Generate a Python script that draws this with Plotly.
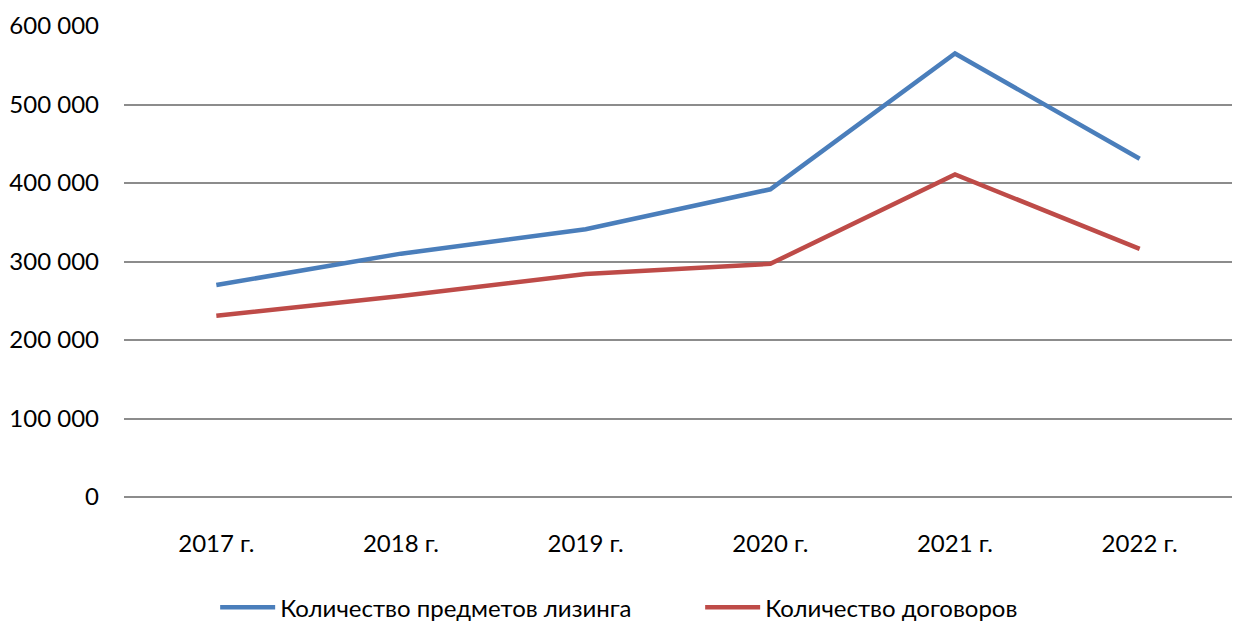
import plotly.graph_objects as go

years = ["2017 г.", "2018 г.", "2019 г.", "2020 г.", "2021 г.", "2022 г."]
items = [270000, 310000, 341000, 392000, 565000, 431000]
contracts = [231000, 256000, 284000, 297000, 411000, 316000]
yticks = [0, 100000, 200000, 300000, 400000, 500000, 600000]
ytick_text = ["0", "100 000", "200 000", "300 000", "400 000", "500 000", "600 000"]

fig = go.Figure()
fig.add_trace(go.Scatter(x=years, y=items, mode="lines", name="Количество предметов лизинга",
                         line=dict(color="#4a7ebb", width=4.5)))
fig.add_trace(go.Scatter(x=years, y=contracts, mode="lines", name="Количество договоров",
                         line=dict(color="#be4b48", width=4.5)))

fig.update_layout(
    width=1235, height=621,
    margin=dict(l=124, r=3, t=26, b=124, autoexpand=False),
    paper_bgcolor="white", plot_bgcolor="white",
    font=dict(family="Lato, Carlito, Calibri, sans-serif", size=24, color="#000000"),
    showlegend=True,
    legend=dict(orientation="h", x=0.52, xanchor="center", y=-0.235, yanchor="middle",
                font=dict(size=24), itemwidth=55, entrywidth=415, traceorder="normal"),
)
fig.update_xaxes(type="category", range=[-0.5, 5.5], showgrid=False, showline=False,
                 zeroline=False, ticks="", ticklabelstandoff=30, tickfont=dict(size=24),
                 automargin=False)
fig.update_yaxes(range=[0, 600000], tickvals=yticks, ticktext=ytick_text,
                 showgrid=True, gridcolor="#8c8c8c", gridwidth=1.5,
                 zeroline=True, zerolinecolor="#8c8c8c", zerolinewidth=1.5,
                 showline=False, ticks="", ticklabelstandoff=24, tickfont=dict(size=24),
                 automargin=False)

fig.write_html(
    "out.html",
    config={"displayModeBar": False},
    post_script="document.body.style.margin='0';document.body.style.overflow='hidden';",
)
